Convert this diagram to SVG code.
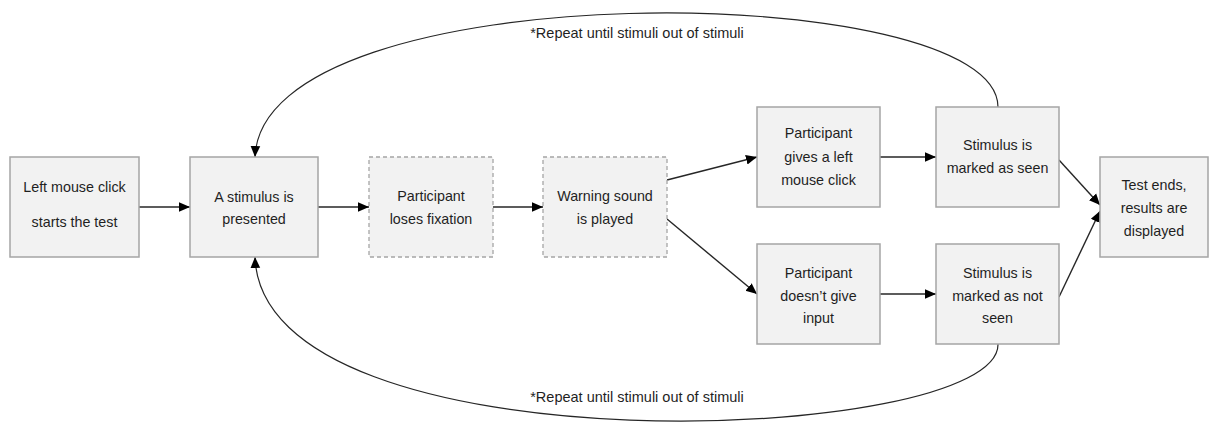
<svg xmlns="http://www.w3.org/2000/svg" width="1218" height="423" viewBox="0 0 1218 423">
  <style>
    .box { fill: #f2f2f2; stroke: #a5a5a5; stroke-width: 1.5; }
    .dash { fill: #f2f2f2; stroke: #a5a5a5; stroke-width: 1.3; stroke-dasharray: 4 3; }
    .lbl { font-family: "Liberation Sans", Arial, sans-serif; font-size: 14.3px; fill: #1f1f1f; text-anchor: middle; }
    .note { font-family: "Liberation Sans", Arial, sans-serif; font-size: 14.5px; fill: #1f1f1f; text-anchor: middle; }
    .edge { fill: none; stroke: #262626; stroke-width: 1.4; marker-end: url(#head); }
    .loop { fill: none; stroke: #262626; stroke-width: 1.2; marker-end: url(#head); }
  </style>
  <defs>
    <marker id="head" viewBox="0 0 10 10" refX="10" refY="5" markerWidth="11" markerHeight="11" markerUnits="userSpaceOnUse" orient="auto">
      <path d="M0,0.6 L10,5 L0,9.4 Z" fill="#000"/>
    </marker>
  </defs>

  <rect width="1218" height="423" fill="#ffffff"/>

  <!-- connectors -->
  <g id="connectors">
    <line class="edge" x1="139" y1="207" x2="190" y2="207"/>
    <line class="edge" x1="318" y1="207" x2="369" y2="207"/>
    <line class="edge" x1="493" y1="207" x2="543" y2="207"/>
    <line class="edge" x1="667" y1="180" x2="757" y2="157"/>
    <line class="edge" x1="667" y1="219" x2="757" y2="294"/>
    <line class="edge" x1="880" y1="157" x2="936" y2="157"/>
    <line class="edge" x1="880" y1="294" x2="936" y2="294"/>
    <line class="edge" x1="1059" y1="160" x2="1100" y2="205"/>
    <line class="edge" x1="1059" y1="297" x2="1100" y2="211"/>
    <!-- repeat loops back to "A stimulus is presented" -->
    <path class="loop" d="M998,107 C998,-22 262,-30 255,157"/>
    <path class="loop" d="M998,344 C1000,445 262,475 255,257"/>
    <text class="note" x="637" y="38">*Repeat until stimuli out of stimuli</text>
    <text class="note" x="637" y="402">*Repeat until stimuli out of stimuli</text>
  </g>

  <g id="start">
    <rect class="box" x="10" y="157" width="129" height="100"/>
    <text class="lbl" x="74.5" y="192">Left mouse click</text>
    <text class="lbl" x="74.5" y="227">starts the test</text>
  </g>

  <g id="present">
    <rect class="box" x="190" y="157" width="128" height="100"/>
    <text class="lbl" x="254" y="202">A stimulus is</text>
    <text class="lbl" x="254" y="224">presented</text>
  </g>

  <g id="fixation">
    <rect class="dash" x="369" y="157" width="124" height="100"/>
    <text class="lbl" x="431" y="201">Participant</text>
    <text class="lbl" x="431" y="224">loses fixation</text>
  </g>

  <g id="warning">
    <rect class="dash" x="543" y="157" width="124" height="100"/>
    <text class="lbl" x="605" y="201">Warning sound</text>
    <text class="lbl" x="605" y="224">is played</text>
  </g>

  <g id="click">
    <rect class="box" x="757" y="107" width="123" height="100"/>
    <text class="lbl" x="818.5" y="138">Participant</text>
    <text class="lbl" x="818.5" y="162">gives a left</text>
    <text class="lbl" x="818.5" y="185">mouse click</text>
  </g>

  <g id="seen">
    <rect class="box" x="936" y="107" width="123" height="100"/>
    <text class="lbl" x="997.5" y="150">Stimulus is</text>
    <text class="lbl" x="997.5" y="173">marked as seen</text>
  </g>

  <g id="noinput">
    <rect class="box" x="757" y="244" width="123" height="100"/>
    <text class="lbl" x="818.5" y="278">Participant</text>
    <text class="lbl" x="818.5" y="301">doesn’t give</text>
    <text class="lbl" x="818.5" y="323">input</text>
  </g>

  <g id="notseen">
    <rect class="box" x="936" y="244" width="123" height="100"/>
    <text class="lbl" x="997.5" y="278">Stimulus is</text>
    <text class="lbl" x="997.5" y="301">marked as not</text>
    <text class="lbl" x="997.5" y="323">seen</text>
  </g>

  <g id="end">
    <rect class="box" x="1100" y="157" width="108" height="100"/>
    <text class="lbl" x="1154" y="190">Test ends,</text>
    <text class="lbl" x="1154" y="213">results are</text>
    <text class="lbl" x="1154" y="236">displayed</text>
  </g>
</svg>
